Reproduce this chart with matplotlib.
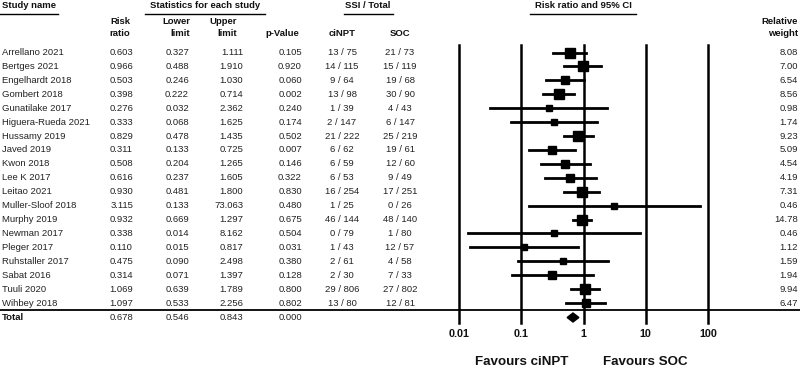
import matplotlib
matplotlib.use("Agg")
import matplotlib.pyplot as plt
import numpy as np

plt.rcParams['font.family'] = ['Liberation Sans', 'DejaVu Sans']

studies = ["Arrellano 2021", "Bertges 2021", "Engelhardt 2018", "Gombert 2018",
           "Gunatilake 2017", "Higuera-Rueda 2021", "Hussamy 2019", "Javed 2019",
           "Kwon 2018", "Lee K 2017", "Leitao 2021", "Muller-Sloof 2018",
           "Murphy 2019", "Newman 2017", "Pleger 2017", "Ruhstaller 2017",
           "Sabat 2016", "Tuuli 2020", "Wihbey 2018"]
rr = [0.603, 0.966, 0.503, 0.398, 0.276, 0.333, 0.829, 0.311, 0.508, 0.616,
      0.930, 3.115, 0.932, 0.338, 0.110, 0.475, 0.314, 1.069, 1.097]
lower = [0.327, 0.488, 0.246, 0.222, 0.032, 0.068, 0.478, 0.133, 0.204, 0.237,
         0.481, 0.133, 0.669, 0.014, 0.015, 0.090, 0.071, 0.639, 0.533]
upper = [1.111, 1.910, 1.030, 0.714, 2.362, 1.625, 1.435, 0.725, 1.265, 1.605,
         1.800, 73.063, 1.297, 8.162, 0.817, 2.498, 1.397, 1.789, 2.256]
pval = [0.105, 0.920, 0.060, 0.002, 0.240, 0.174, 0.502, 0.007, 0.146, 0.322,
        0.830, 0.480, 0.675, 0.504, 0.031, 0.380, 0.128, 0.800, 0.802]
cinpt = ["13 / 75", "14 / 115", "9 / 64", "13 / 98", "1 / 39", "2 / 147",
         "21 / 222", "6 / 62", "6 / 59", "6 / 53", "16 / 254", "1 / 25",
         "46 / 144", "0 / 79", "1 / 43", "2 / 61", "2 / 30", "29 / 806", "13 / 80"]
soc = ["21 / 73", "15 / 119", "19 / 68", "30 / 90", "4 / 43", "6 / 147",
       "25 / 219", "19 / 61", "12 / 60", "9 / 49", "17 / 251", "0 / 26",
       "48 / 140", "1 / 80", "12 / 57", "4 / 58", "7 / 33", "27 / 802", "12 / 81"]
weight = [8.08, 7.00, 6.54, 8.56, 0.98, 1.74, 9.23, 5.09, 4.54, 4.19, 7.31,
          0.46, 14.78, 0.46, 1.12, 1.59, 1.94, 9.94, 6.47]
total = {"rr": 0.678, "lower": 0.546, "upper": 0.843, "p": 0.000}
ticks = [0.01, 0.1, 1, 10, 100]
tick_labels = ["0.01", "0.1", "1", "10", "100"]

W, H = 800, 369
fig = plt.figure(figsize=(W / 100, H / 100), dpi=100)
ax = fig.add_axes([0, 0, 1, 1])
ax.set_xlim(0, W)
ax.set_ylim(H, 0)
ax.axis('off')

fs = 6.8
y0, dy = 52.5, 13.92
n = len(studies)
ys = [y0 + i * dy for i in range(n)]
y_total = 317.5

# headers
hb = dict(fontsize=fs, fontweight='bold', va='center', color='#111111')
ax.text(2, 6, "Study name", ha='left', **hb)
ax.plot([0, 58], [14, 14], color='black', lw=1)
ax.text(205, 6, "Statistics for each study", ha='center', **hb)
ax.plot([145, 265], [14, 14], color='black', lw=1)
ax.text(368, 6, "SSI / Total", ha='center', **hb)
ax.plot([344, 393], [14, 14], color='black', lw=1)
ax.text(583, 6, "Risk ratio and 95% CI", ha='center', **hb)
ax.plot([530, 636], [14, 14], color='black', lw=1)

ax.text(130, 22, "Risk", ha='right', **hb)
ax.text(130, 34, "ratio", ha='right', **hb)
ax.text(190, 22, "Lower", ha='right', **hb)
ax.text(190, 34, "limit", ha='right', **hb)
ax.text(237, 22, "Upper", ha='right', **hb)
ax.text(237, 34, "limit", ha='right', **hb)
ax.text(299, 34, "p-Value", ha='right', **hb)
ax.text(342, 34, "ciNPT", ha='center', **hb)
ax.text(400, 34, "SOC", ha='center', **hb)
ax.text(798, 22, "Relative", ha='right', **hb)
ax.text(798, 34, "weight", ha='right', **hb)

tc = dict(fontsize=fs, va='center', color='#222222')
for i in range(n):
    y = ys[i]
    ax.text(2, y, studies[i], ha='left', **tc)
    ax.text(133, y, f"{rr[i]:.3f}", ha='right', **tc)
    ax.text(189, y, f"{lower[i]:.3f}", ha='right', **tc)
    ax.text(243, y, f"{upper[i]:.3f}", ha='right', **tc)
    ax.text(302, y, f"{pval[i]:.3f}", ha='right', **tc)
    ax.text(342, y, cinpt[i], ha='center', **tc)
    ax.text(400, y, soc[i], ha='center', **tc)
    ax.text(798, y, f"{weight[i]:.2f}", ha='right', **tc)

ax.text(2, y_total, "Total", ha='left', fontsize=fs, fontweight='bold', va='center',
        color='#111111')
ax.text(133, y_total, f"{total['rr']:.3f}", ha='right', **tc)
ax.text(189, y_total, f"{total['lower']:.3f}", ha='right', **tc)
ax.text(243, y_total, f"{total['upper']:.3f}", ha='right', **tc)
ax.text(302, y_total, f"{total['p']:.3f}", ha='right', **tc)

# separator line
ax.plot([0, W], [310, 310], color='black', lw=1.3)

# forest axes
x_lo, x_hi = 459, 708
fax = fig.add_axes([x_lo / W, 0, (x_hi - x_lo) / W, 1])
fax.set_xscale('log')
fax.set_xlim(0.01, 100)
fax.set_ylim(H, 0)
fax.axis('off')
fax.patch.set_alpha(0)

for t, lab in zip(ticks, tick_labels):
    fax.plot([t, t], [45, 323], color='black', lw=1.8, clip_on=False, zorder=1)
    fax.text(t, 334, lab, ha='center', va='center', fontsize=7.8, fontweight='bold',
             color='#111111')

for i in range(n):
    y = ys[i]
    fax.plot([lower[i], upper[i]], [y, y], color='black', lw=2, clip_on=False, zorder=2)
    side = 4.8 + 1.6 * np.sqrt(weight[i])
    fax.plot([rr[i]], [y], marker='s', ms=side * 0.72, color='black',
             clip_on=False, zorder=3, linestyle='none')

# diamond
dh = 4.5
fax.fill([total['lower'], total['rr'], total['upper'], total['rr']],
         [y_total, y_total - dh, y_total, y_total + dh], color='black', zorder=3,
         clip_on=False)

ax.text(522, 362, "Favours ciNPT", ha='center', va='center', fontsize=9.6,
        fontweight='bold', color='#111111')
ax.text(645, 362, "Favours SOC", ha='center', va='center', fontsize=9.6,
        fontweight='bold', color='#111111')

fig.savefig("out.png", dpi=100)
